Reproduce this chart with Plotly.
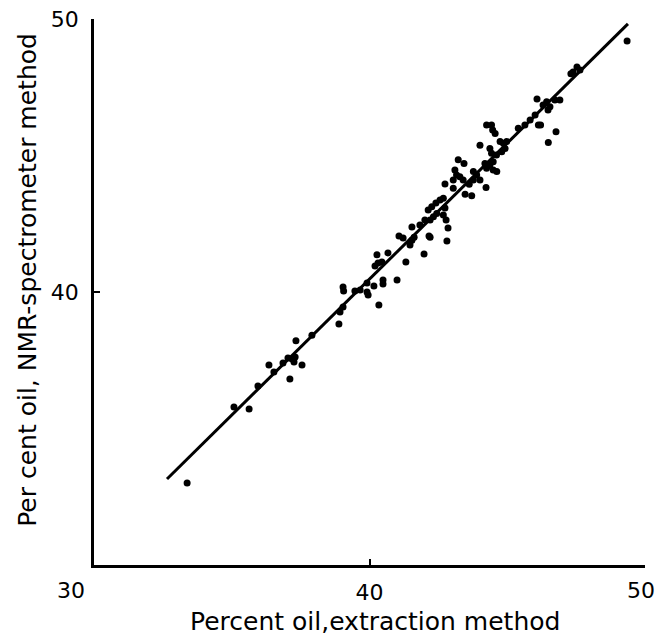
import plotly.graph_objects as go

# Percent oil, extraction method (x) vs NMR-spectrometer method (y)
x_extraction = [
    33.38, 35.08, 35.63, 35.95, 36.35, 36.53, 37.11, 36.86, 37.04, 37.19,
    37.30, 37.26, 37.55, 37.33, 37.91, 38.89, 38.93, 39.04, 39.04, 39.06,
    39.47, 39.66, 39.91, 39.95, 39.91, 40.16, 40.34, 40.49, 40.49, 40.20,
    40.31, 40.27, 40.67, 40.45, 41.00, 41.32, 41.07, 41.22, 41.47, 41.54,
    41.62, 41.98, 42.16, 42.81, 41.54, 42.78, 42.85, 42.20, 42.13, 42.26,
    42.41, 42.56, 42.68, 42.32, 42.20, 42.44, 42.74, 42.68, 42.01, 41.83,
    42.74, 43.04, 43.47, 43.71, 43.22, 43.43, 43.10, 43.16, 43.28, 43.40,
    43.04, 43.77, 43.89, 44.01, 43.77, 44.23, 43.62, 44.19, 44.25, 44.49,
    44.62, 44.37, 44.49, 44.61, 44.43, 44.37, 44.01, 44.80, 44.92, 44.74,
    44.86, 44.98, 44.56, 44.47, 44.25, 44.43, 45.40, 45.64, 45.83, 46.01,
    46.13, 46.21, 46.77, 46.49, 46.08, 46.30, 46.43, 46.55, 46.48, 46.91,
    46.73, 47.31, 47.39, 47.53, 47.64, 49.35,
]
y_nmr = [
    33.00, 35.79, 35.71, 36.56, 37.33, 37.07, 36.81, 37.40, 37.58, 37.55,
    37.62, 37.44, 37.33, 38.21, 38.42, 38.83, 39.27, 39.45, 40.18, 40.04,
    40.04, 40.07, 40.00, 39.89, 40.33, 40.22, 39.52, 40.44, 40.29, 40.95,
    41.06, 41.36, 41.43, 41.10, 40.44, 41.10, 42.05, 41.98, 41.72, 41.90,
    42.01, 41.39, 42.05, 41.87, 42.38, 42.64, 42.34, 42.01, 43.00, 43.12,
    43.26, 43.37, 43.43, 42.76, 42.64, 42.88, 43.08, 42.82, 42.64, 42.45,
    43.96, 43.80, 43.58, 43.53, 44.84, 44.71, 44.47, 44.29, 44.22, 44.10,
    44.10, 44.41, 44.29, 44.10, 44.10, 43.83, 43.95, 44.71, 44.53, 44.47,
    44.41, 44.65, 44.77, 45.02, 45.08, 45.26, 45.38, 45.14, 45.26, 45.51,
    45.45, 45.51, 45.81, 45.93, 46.12, 46.12, 46.00, 46.12, 46.30, 46.48,
    46.12, 46.12, 45.87, 45.48, 47.07, 46.85, 46.97, 46.79, 46.67, 47.03,
    47.03, 47.99, 48.06, 48.24, 48.13, 49.19,
]

# Fitted line end points
line_x = [32.65, 49.38]
line_y = [33.15, 49.82]

tick_vals = [40, 50]
x_tick_text = ["40", ""]      # "30" and "50" drawn as annotations (corner / edge)
y_tick_text = ["40", "50"]

FONT = "DejaVu Sans"

fig = go.Figure()
fig.add_trace(go.Scatter(x=line_x, y=line_y, mode="lines",
                         line=dict(color="black", width=3), showlegend=False))
fig.add_trace(go.Scatter(x=x_extraction, y=y_nmr, mode="markers",
                         marker=dict(color="black", size=7), showlegend=False))

axis_common = dict(
    range=[30, 50], showgrid=False, zeroline=False, showline=True,
    linecolor="black", linewidth=2.5, ticks="inside", ticklen=6,
    tickwidth=2, tickcolor="black", tickvals=tick_vals,
    tickfont=dict(family=FONT, size=22, color="black"),
    ticklabeloverflow="allow", automargin=False,
)

tick_font = dict(family=FONT, size=22, color="black")

fig.update_layout(
    width=655, height=635,
    margin=dict(l=94, r=10, t=19, b=70),
    paper_bgcolor="white", plot_bgcolor="white",
    xaxis=dict(**axis_common, ticktext=x_tick_text, ticklabelstandoff=6),
    yaxis=dict(**axis_common, ticktext=y_tick_text, ticklabelstandoff=8),
    annotations=[
        dict(text="30", x=30, y=30, xref="x", yref="y", showarrow=False,
             xshift=-23, yshift=-25, font=tick_font),
        dict(text="50", x=50, y=30, xref="x", yref="y", showarrow=False,
             xshift=-4, yshift=-25, font=tick_font),
        dict(text="Percent oil,extraction method", x=0.51, y=-0.1026,
             xref="paper", yref="paper", showarrow=False,
             xanchor="center", yanchor="middle",
             font=dict(family=FONT, size=25, color="black")),
        dict(text="Per cent oil, NMR-spectrometer method", x=-0.12, y=0.522,
             xref="paper", yref="paper", showarrow=False, textangle=-90,
             xanchor="center", yanchor="middle",
             font=dict(family=FONT, size=25, color="black")),
    ],
)

fig.write_html(
    "out.html",
    config={"displayModeBar": False},
    post_script="document.body.style.margin='0px';document.body.style.overflow='hidden';",
)
